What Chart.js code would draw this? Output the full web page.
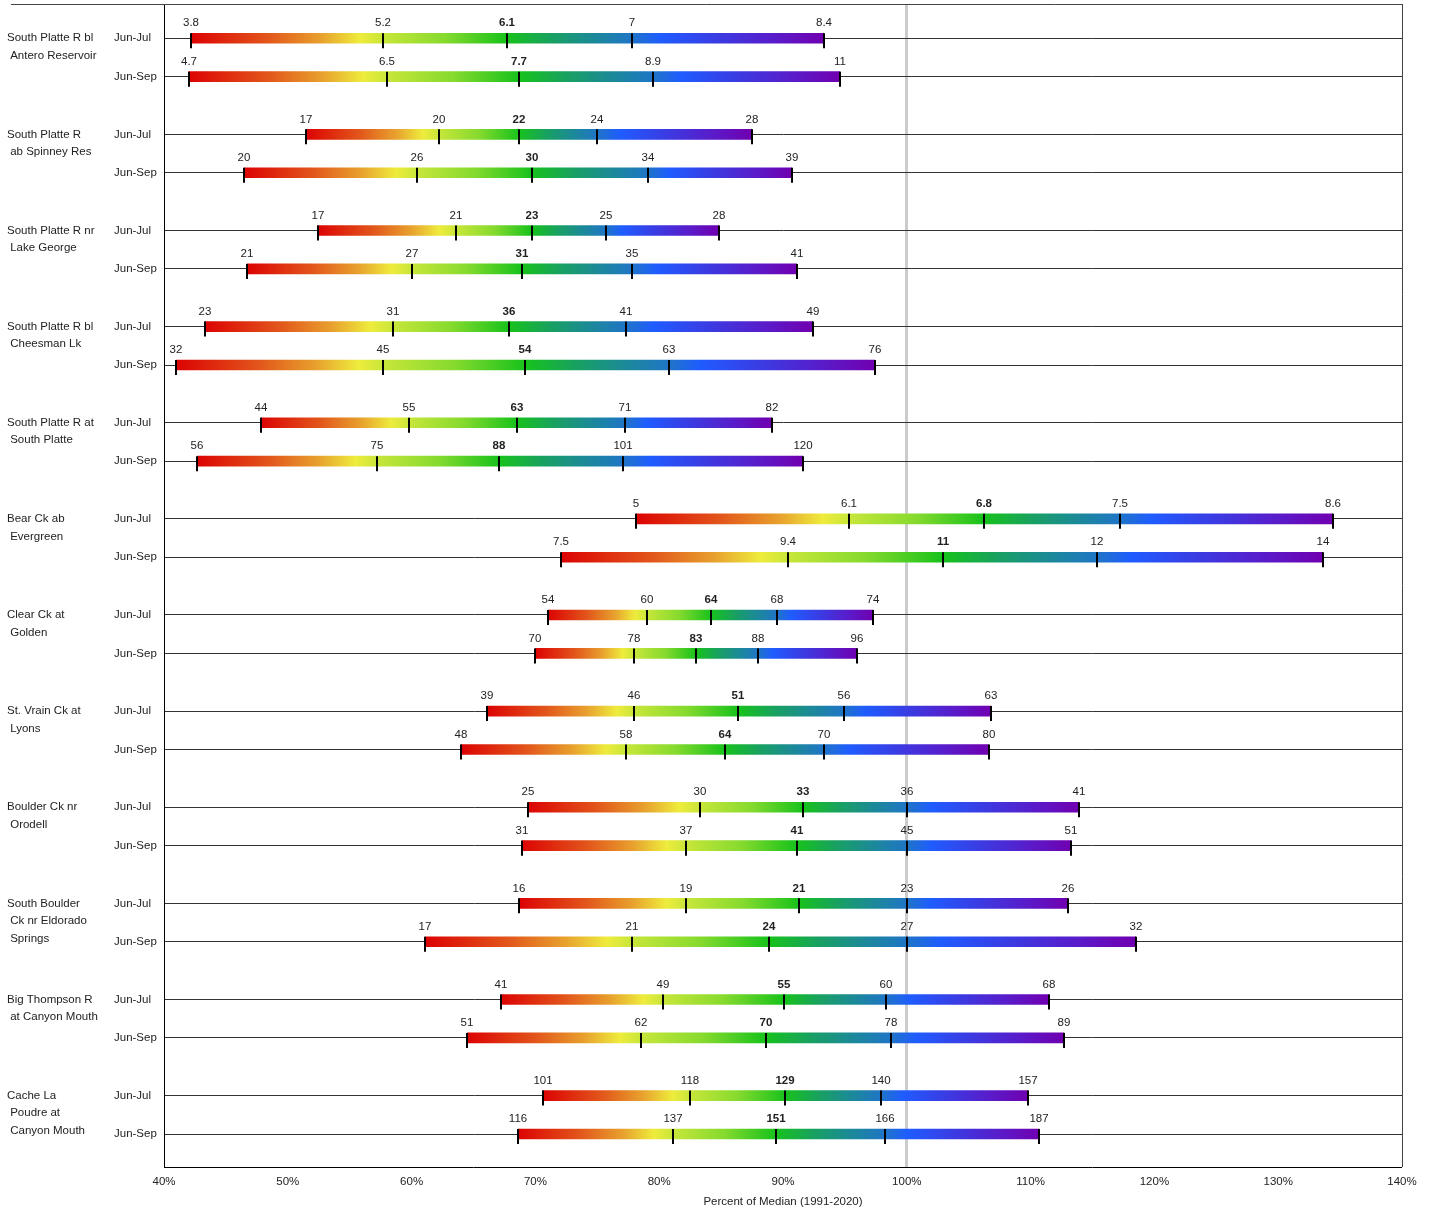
<!DOCTYPE html>
<html>
<head>
<meta charset="utf-8">
<title>South Platte basin streamflow forecasts</title>
<script src="https://cdn.jsdelivr.net/npm/chart.js@4.4.1/dist/chart.umd.min.js"></script>
<style>
  html, body { margin: 0; padding: 0; background: #fff; }
  #wrap { width: 1434px; height: 1209px; }
</style>
</head>
<body>
<div id="wrap"><canvas id="myChart" width="1434" height="1209"></canvas></div>
<script>
// Forecast points, names wrapped the way they are printed on the left
const stations = [
    ['South Platte R bl', ' Antero Reservoir'],
    ['South Platte R', ' ab Spinney Res'],
    ['South Platte R nr', ' Lake George'],
    ['South Platte R bl', ' Cheesman Lk'],
    ['South Platte R at', ' South Platte'],
    ['Bear Ck ab', ' Evergreen'],
    ['Clear Ck at', ' Golden'],
    ['St. Vrain Ck at', ' Lyons'],
    ['Boulder Ck nr', ' Orodell'],
    ['South Boulder', ' Ck nr Eldorado', ' Springs'],
    ['Big Thompson R', ' at Canyon Mouth'],
    ['Cache La', ' Poudre at', ' Canyon Mouth']
];
const periods = ['Jun-Jul', 'Jun-Sep'];

// Forecast volumes (kaf) by exceedance probability, two rows per station (Jun-Jul, Jun-Sep)
const vol90 = [3.8, 4.7, 17, 20, 17, 21, 23, 32, 44, 56, 5, 7.5, 54, 70, 39, 48, 25, 31, 16, 17, 41, 51, 101, 116];
const vol70 = [5.2, 6.5, 20, 26, 21, 27, 31, 45, 55, 75, 6.1, 9.4, 60, 78, 46, 58, 30, 37, 19, 21, 49, 62, 118, 137];
const vol50 = [6.1, 7.7, 22, 30, 23, 31, 36, 54, 63, 88, 6.8, 11, 64, 83, 51, 64, 33, 41, 21, 24, 55, 70, 129, 151];
const vol30 = [7, 8.9, 24, 34, 25, 35, 41, 63, 71, 101, 7.5, 12, 68, 88, 56, 70, 36, 45, 23, 27, 60, 78, 140, 166];
const vol10 = [8.4, 11, 28, 39, 28, 41, 49, 76, 82, 120, 8.6, 14, 74, 96, 63, 80, 41, 51, 26, 32, 68, 89, 157, 187];

// The same forecasts as percent of the 1991-2020 median
const pct90 = [42.2, 42.0, 51.5, 46.5, 52.4, 46.7, 43.3, 41.0, 47.8, 42.7, 78.1, 72.1, 71.0, 70.0, 66.1, 64.0, 69.4, 68.9, 68.7, 61.1, 67.2, 64.5, 70.6, 68.6];
const pct70 = [57.7, 58.0, 62.2, 60.4, 63.6, 60.0, 58.5, 57.7, 59.8, 57.2, 95.3, 90.4, 79.0, 78.0, 78.0, 77.3, 83.3, 82.2, 82.2, 77.8, 80.3, 78.5, 82.5, 81.1];
const pct50 = [67.7, 68.7, 68.7, 69.7, 69.7, 68.9, 67.9, 69.2, 68.5, 67.1, 106.2, 102.9, 84.2, 83.0, 86.4, 85.3, 91.6, 91.1, 91.3, 88.9, 90.1, 88.6, 90.2, 89.4];
const pct30 = [77.8, 79.5, 75.0, 79.1, 75.7, 77.8, 77.3, 80.8, 77.2, 77.1, 117.2, 115.4, 89.5, 88.0, 94.9, 93.3, 100.0, 100.0, 100.0, 100.0, 98.3, 98.7, 97.9, 98.2];
const pct10 = [93.3, 94.6, 87.5, 90.7, 84.8, 91.1, 92.4, 97.4, 89.1, 91.6, 134.4, 133.6, 97.3, 96.0, 106.8, 106.6, 113.9, 113.3, 113.0, 118.5, 111.5, 112.7, 109.8, 110.7];

const levels = [
    { pct: pct90, vol: vol90 },
    { pct: pct70, vol: vol70 },
    { pct: pct50, vol: vol50, bold: true },
    { pct: pct30, vol: vol30 },
    { pct: pct10, vol: vol10 }
];

const FONT = '"Liberation Sans", Arial, sans-serif';
const TEXT = '#222';

// y value of each row: one unit per station, Jun-Sep sits a bit under Jun-Jul
const rows = pct90.map((v, i) => i);
const rowPos = rows.map(i => Math.floor(i / 2) + (i % 2) * 0.4);

// colour stops inside each gap between two markers, [fraction of gap, colour]
const gapColors = [
    [[0, '#dc0303'], [0.4, '#e2561b'], [0.68, '#e8a22e'], [0.88, '#eeec3c'], [1, '#c8e63a']],
    [[0.5, '#86da2e'], [1, '#17c21b']],
    [[0.35, '#18a160'], [0.65, '#1b8c92'], [1, '#1f75c6']],
    [[0.15, '#1f5cff'], [0.45, '#3b3be2'], [0.75, '#5a1bc9'], [1, '#7000b0']]
];

function barGradient(context) {
    const chart = context.chart;
    const x = chart.scales.x;
    if (!chart.chartArea || !x || context.dataIndex === undefined) return '#1ec81e';
    const r = context.dataIndex;
    const px = levels.map(lv => x.getPixelForValue(lv.pct[r]));
    const span = px[4] - px[0];
    const g = chart.ctx.createLinearGradient(px[0], 0, px[4], 0);
    gapColors.forEach((stops, s) => {
        stops.forEach(([f, c]) => {
            const off = (px[s] + f * (px[s + 1] - px[s]) - px[0]) / span;
            g.addColorStop(Math.min(1, Math.max(0, off)), c);
        });
    });
    return g;
}

// frame lines on the top and right of the plot
const framePlugin = {
    id: 'frame',
    afterDraw(chart) {
        const { ctx, chartArea: a } = chart;
        ctx.save();
        ctx.strokeStyle = '#444';
        ctx.lineWidth = 1;
        ctx.beginPath();
        ctx.moveTo(11, Math.round(a.top) + 0.5);
        ctx.lineTo(Math.round(a.right) + 0.5, Math.round(a.top) + 0.5);
        ctx.moveTo(Math.round(a.right) + 0.5, Math.round(a.top));
        ctx.lineTo(Math.round(a.right) + 0.5, Math.round(a.bottom));
        ctx.stroke();
        ctx.restore();
    }
};

// marker ticks, value labels and the row / station names
const markerPlugin = {
    id: 'markers',
    afterDatasetsDraw(chart) {
        const { ctx, scales: { x, y } } = chart;
        ctx.save();
        ctx.textAlign = 'center';
        ctx.textBaseline = 'middle';
        rows.forEach(r => {
            const py = y.getPixelForValue(rowPos[r]);
            levels.forEach(lv => {
                const px = Math.round(x.getPixelForValue(lv.pct[r]));
                ctx.strokeStyle = '#000';
                ctx.lineWidth = 2;
                ctx.beginPath();
                ctx.moveTo(px, py - 5);
                ctx.lineTo(px, py + 10);
                ctx.stroke();
                ctx.fillStyle = TEXT;
                ctx.font = (lv.bold ? 'bold ' : '') + '11.5px ' + FONT;
                ctx.fillText(String(lv.vol[r]), px, py - 15);
            });
        });

        ctx.textAlign = 'left';
        ctx.font = '11.5px ' + FONT;
        ctx.fillStyle = TEXT;
        rows.forEach(r => {
            const py = y.getPixelForValue(rowPos[r]);
            ctx.fillText(periods[r % 2], 114, py);
        });
        stations.forEach((lines, s) => {
            const py = y.getPixelForValue(rowPos[s * 2]);
            lines.forEach((t, k) => ctx.fillText(t, 7, py + k * 17.5));
        });
        ctx.restore();
    }
};

const chartArea = document.getElementById('myChart');

const chartContent = new Chart(chartArea, {
    type: 'bar',
    data: {
        datasets: [{
            data: rows.map(r => ({ x: [pct90[r], pct10[r]], y: rowPos[r] })),
            backgroundColor: barGradient,
            barThickness: 10,
            borderWidth: 0,
            borderSkipped: false
        }]
    },
    options: {
        indexAxis: 'y',
        responsive: false,
        animation: false,
        devicePixelRatio: 1,
        layout: { padding: { left: 0, top: 4, right: 32, bottom: 0 } },
        plugins: {
            legend: { display: false },
            tooltip: { enabled: false }
        },
        scales: {
            x: {
                type: 'linear',
                position: 'bottom',
                min: 40,
                max: 140,
                ticks: {
                    stepSize: 10,
                    padding: 8,
                    color: TEXT,
                    font: { family: FONT, size: 11.5 },
                    callback: v => v + '%'
                },
                grid: {
                    drawTicks: false,
                    color: c => (c.tick && c.tick.value === 100 ? '#cccccc' : 'rgba(0,0,0,0)'),
                    lineWidth: c => (c.tick && c.tick.value === 100 ? 3 : 0)
                },
                border: { display: true, color: '#000', width: 1 },
                title: {
                    display: true,
                    text: 'Percent of Median (1991-2020)',
                    color: TEXT,
                    font: { family: FONT, size: 11.5 },
                    padding: { top: 2, bottom: 0 }
                },
                afterFit: s => { s.height = 42; }
            },
            y: {
                type: 'linear',
                reverse: true,
                offset: false,
                min: -0.356,
                max: 11.743,
                afterBuildTicks: s => { s.ticks = rowPos.map(v => ({ value: v })); },
                ticks: { display: false },
                grid: { offset: false, drawTicks: false, color: '#333', lineWidth: 1 },
                border: { display: true, color: '#000', width: 1 },
                afterFit: s => { s.width = 164; }
            }
        }
    },
    plugins: [framePlugin, markerPlugin]
});
</script>
</body>
</html>
